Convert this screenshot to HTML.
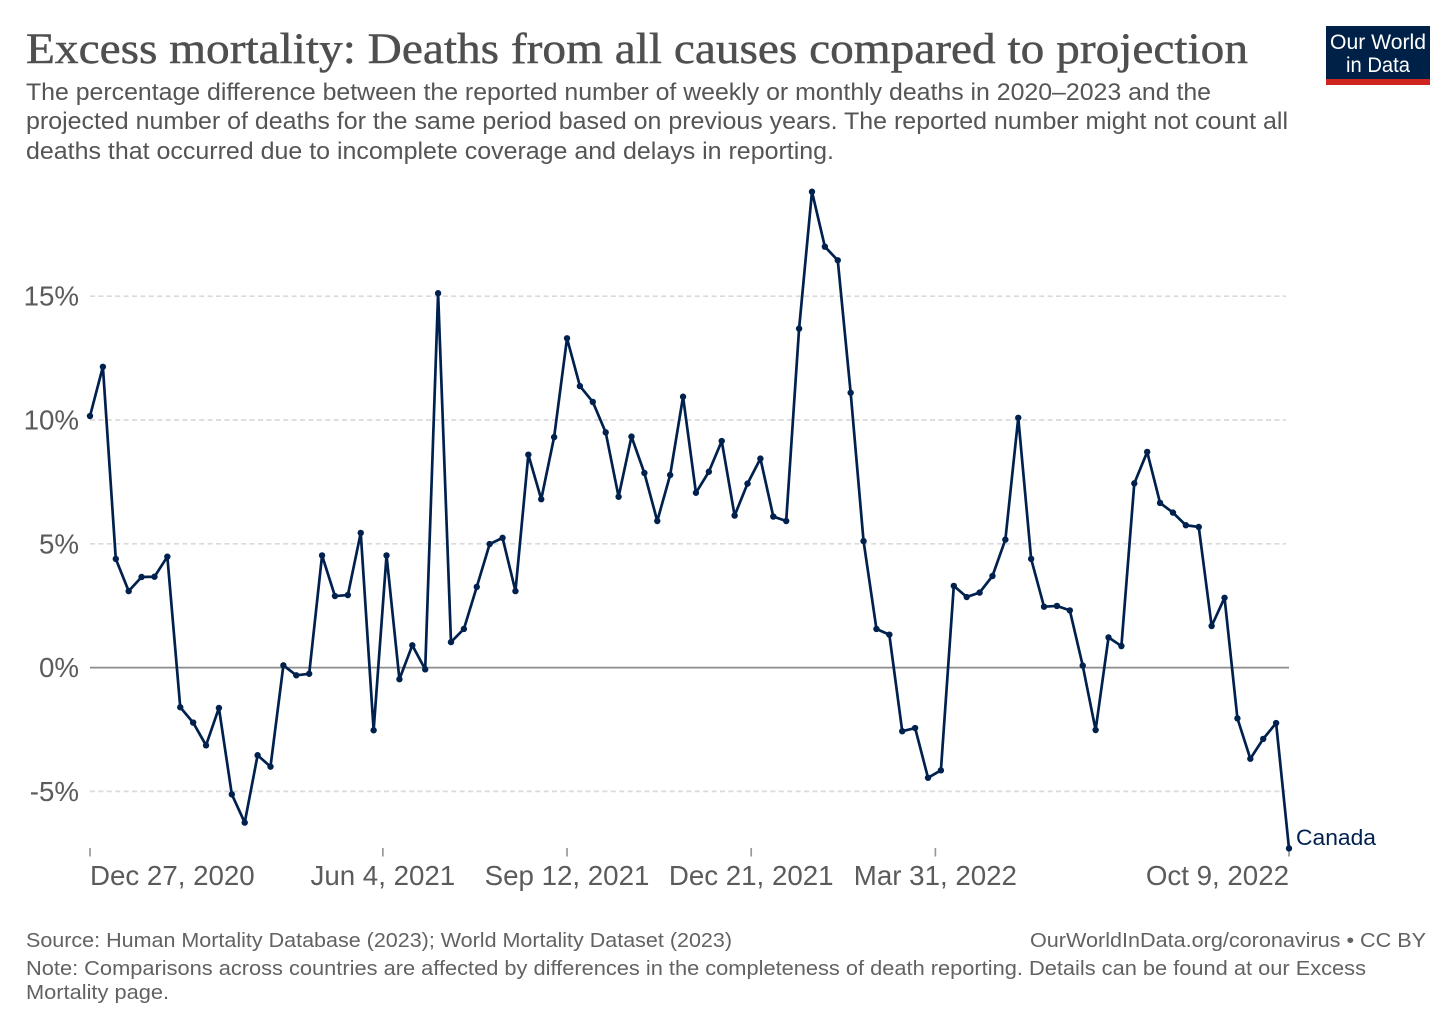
<!DOCTYPE html>
<html lang="en">
<head>
<meta charset="utf-8">
<title>Excess mortality: Deaths from all causes compared to projection</title>
<style>
html,body{margin:0;padding:0;background:#fff}
svg{display:block}
text{font-family:"Liberation Sans",sans-serif}
.title{font-family:"Liberation Serif",serif;font-size:43px;fill:#4f4f4f;stroke:#4f4f4f;stroke-width:.45px}
.sub{font-size:24.4px;fill:#555}
.foot{font-size:20.4px;fill:#626262}
.tick{font-size:27.7px;fill:#5b5b5b}
</style>
</head>
<body>
<svg id="chart" xmlns="http://www.w3.org/2000/svg" width="1456" height="1028" viewBox="0 0 1456 1028">
  <rect x="0" y="0" width="1456" height="1028" fill="#fff"/>
  <text class="title" x="26" y="63" textLength="1222" lengthAdjust="spacingAndGlyphs">Excess mortality: Deaths from all causes compared to projection</text>
  <text class="sub" x="26" y="100" textLength="1185" lengthAdjust="spacingAndGlyphs">The percentage difference between the reported number of weekly or monthly deaths in 2020–2023 and the</text>
  <text class="sub" x="26" y="129" textLength="1262" lengthAdjust="spacingAndGlyphs">projected number of deaths for the same period based on previous years. The reported number might not count all</text>
  <text class="sub" x="26" y="159" textLength="808" lengthAdjust="spacingAndGlyphs">deaths that occurred due to incomplete coverage and delays in reporting.</text>

  <g>
    <rect x="1326" y="26" width="104" height="59" fill="#002147"/>
    <rect x="1326" y="79" width="104" height="6" fill="#ce261e"/>
    <text x="1378" y="49" text-anchor="middle" font-size="21.5" fill="#fff" textLength="96" lengthAdjust="spacingAndGlyphs">Our World</text>
    <text x="1378" y="72" text-anchor="middle" font-size="21.5" fill="#fff" textLength="64" lengthAdjust="spacingAndGlyphs">in Data</text>
  </g>

  <g id="grid"></g>
  <g id="yLabels"></g>
  <g id="xAxis"></g>
  <g id="series"></g>

  <text id="seriesLabel" x="1296" y="845" font-size="22" fill="#00204e" textLength="80" lengthAdjust="spacingAndGlyphs">Canada</text>

  <text class="foot" x="26" y="947" textLength="706" lengthAdjust="spacingAndGlyphs">Source: Human Mortality Database (2023); World Mortality Dataset (2023)</text>
  <text class="foot" x="1030" y="947" textLength="396" lengthAdjust="spacingAndGlyphs">OurWorldInData.org/coronavirus • CC BY</text>
  <text class="foot" x="26" y="975" textLength="1340" lengthAdjust="spacingAndGlyphs">Note: Comparisons across countries are affected by differences in the completeness of death reporting. Details can be found at our Excess</text>
  <text class="foot" x="26" y="999" textLength="143" lengthAdjust="spacingAndGlyphs">Mortality page.</text>
</svg>
<script>
const canadaValues = [
  10.16, 12.15, 4.39, 3.09, 3.66, 3.67, 4.48, -1.60, -2.22, -3.14,
  -1.63, -5.12, -6.26, -3.54, -4.00, 0.09, -0.31, -0.25, 4.53, 2.89,
  2.93, 5.44, -2.53, 4.53, -0.47, 0.90, -0.07, 15.12, 1.03, 1.56,
  3.26, 4.99, 5.24, 3.09, 8.60, 6.80, 9.31, 13.30, 11.37, 10.73,
  9.50, 6.90, 9.33, 7.86, 5.92, 7.78, 10.94, 7.06, 7.91, 9.15,
  6.14, 7.43, 8.44, 6.10, 5.92, 13.69, 19.22, 17.00, 16.45, 11.10,
  5.11, 1.56, 1.33, -2.57, -2.44, -4.45, -4.15, 3.30, 2.85, 3.03,
  3.70, 5.17, 10.09, 4.39, 2.46, 2.49, 2.31, 0.08, -2.52, 1.22,
  0.87, 7.44, 8.71, 6.65, 6.26, 5.75, 5.68, 1.68, 2.82, -2.05,
  -3.68, -2.88, -2.24, -7.30
];
const yTicks = [-5, 0, 5, 10, 15];
const xTickDates = ['2020-12-27', '2021-06-04', '2021-09-12', '2021-12-21', '2022-03-31', '2022-10-09'];
const xTickLabels = ['Dec 27, 2020', 'Jun 4, 2021', 'Sep 12, 2021', 'Dec 21, 2021', 'Mar 31, 2022', 'Oct 9, 2022'];
const startDate = '2020-12-27';
const weekDays = 7;

const NS = 'http://www.w3.org/2000/svg';
const plotLeft = 90, plotRight = 1289, zeroY = 667.6, pxPerPercent = 24.76;
const msPerDay = 86400000;
const dayOf = d => (Date.parse(d) - Date.parse(startDate)) / msPerDay;
const totalDays = (canadaValues.length - 1) * weekDays;
const xScale = day => plotLeft + (day / totalDays) * (plotRight - plotLeft);
const yScale = v => zeroY - v * pxPerPercent;

function make(tag, attrs, parent) {
  const el = document.createElementNS(NS, tag);
  for (const k in attrs) el.setAttribute(k, attrs[k]);
  parent.appendChild(el);
  return el;
}

const grid = document.getElementById('grid');
const yLabels = document.getElementById('yLabels');
yTicks.forEach(t => {
  const isZero = t === 0;
  const line = make('line', {
    x1: plotLeft, x2: isZero ? plotRight : plotRight - 3,
    y1: yScale(t), y2: yScale(t),
    stroke: isZero ? '#8c8c8c' : '#dadada',
    'stroke-width': 1.7,
    'stroke-dasharray': isZero ? 'none' : '5 3.4'
  }, grid);
  
  
  const label = make('text', { x: 79, y: yScale(t) + 9.5, 'text-anchor': 'end', class: 'tick' }, yLabels);
  
  
  label.textContent = t + '%';
});

const xAxis = document.getElementById('xAxis');
xTickDates.forEach((d, i) => {
  const x = xScale(dayOf(d));
  const tick = make('line', { x1: x, x2: x, y1: 848, y2: 856.5, stroke: '#999', 'stroke-width': 1.7 }, xAxis);
  
  
  const anchor = i === 0 ? 'start' : i === xTickDates.length - 1 ? 'end' : 'middle';
  const label = make('text', { x: x, y: 885, 'text-anchor': anchor, class: 'tick' }, xAxis);
  
  
  label.textContent = xTickLabels[i];
});

const series = document.getElementById('series');
const pts = canadaValues.map((v, i) => xScale(i * weekDays).toFixed(2) + ',' + yScale(v).toFixed(2)).join(' ');
const polyline = make('polyline', {
  points: pts, fill: 'none', stroke: '#00204e', 'stroke-width': 2.7, 'stroke-linejoin': 'round'
}, series);


canadaValues.forEach((v, i) => {
  const dot = make('circle', { cx: xScale(i * weekDays), cy: yScale(v), r: 3.2, fill: '#00204e' }, series);
  
  
});
</script>
</body>
</html>
